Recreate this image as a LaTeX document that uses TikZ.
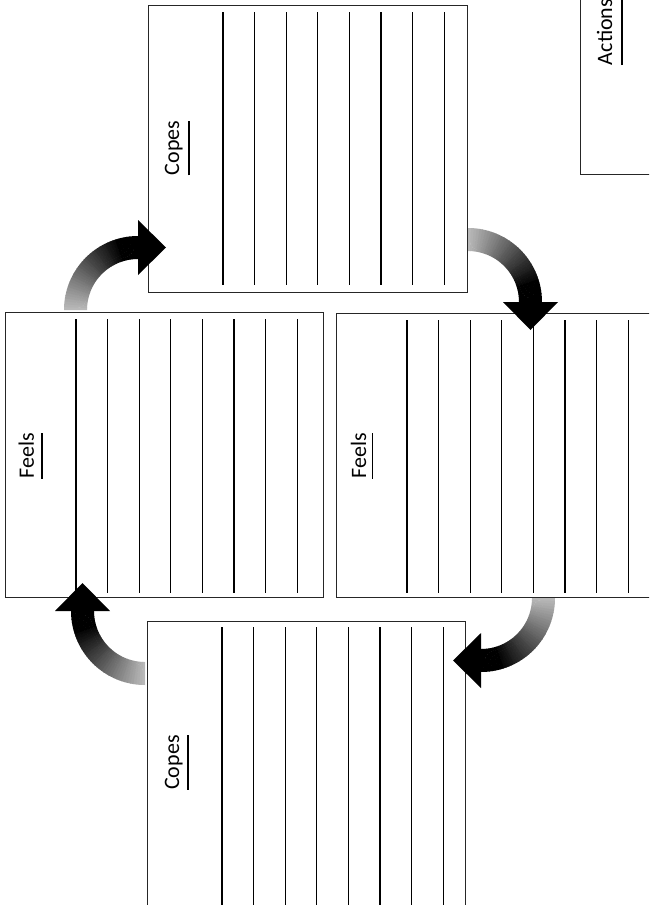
\documentclass[tikz,border=0pt]{standalone}
\usepackage{fontspec}
\setmainfont{Carlito}
\usetikzlibrary{calc}
\tikzset{
  sheet/.style={draw=black!85, line width=0.9pt, fill=white, minimum width=318.5pt, minimum height=287pt, inner sep=0pt},
  rule/.style={draw=black, line width=1.1pt},
  heading/.style={rotate=90, anchor=base, inner sep=0pt, font=\fontsize{22}{26}\selectfont},
  uline/.style={draw=black, line width=1.1pt},
}
% curved block arrow: #1 centre coordinate, #2 start angle (clockwise on page, 90 degrees)
\newcommand\cvarrow[2]{%
  \foreach \i in {0,...,39}{%
    \pgfmathsetmacro\aa{#2+90*\i/40}%
    \pgfmathsetmacro\ab{#2+90*(\i+1)/40+0.4}%
    \pgfmathtruncatemacro\pp{min(100,28+72*\i/32)}%
    \fill[black!\pp] ($(#1)+(\aa:51)$) arc[start angle=\aa, end angle=\ab, radius=51]
      -- ($(#1)+(\ab:74)$) arc[start angle=\ab, end angle=\aa, radius=74] -- cycle;
  }%
  \pgfmathsetmacro\hb{#2+90}%
  \pgfmathsetmacro\ht{#2+180}%
  \fill[black] ($(#1)+(\hb:35)$) -- ($(#1)+(\hb:62.5)+(\ht:28)$) -- ($(#1)+(\hb:90)$) -- cycle;
}
\begin{document}
\begin{tikzpicture}[x=1pt,y=-1pt]
\useasboundingbox (0,0) rectangle (649,905);
\clip (0,0) rectangle (649,905);
\fill[white] (0,0) rectangle (649,905);

% sheets
\node[sheet] (copesA) at (308,148.5) {};
\node[sheet, minimum height=285pt] (feelsB) at (164.5,454.5) {};
\node[sheet, minimum height=284pt] (feelsC) at (495.5,455) {};
\node[sheet] (copesD) at (306.5,764.5) {};
\node[sheet] (actions) at (739.5,30.5) {};

% ruled lines
\foreach \k in {0,...,7}{
  \draw[rule] ({223+31.6*\k},12) -- ({223+31.6*\k},285);
  \draw[rule] ({76+31.6*\k},319) -- ({76+31.6*\k},593);
  \draw[rule] ({407+31.6*\k},320) -- ({407+31.6*\k},593);
  \draw[rule] ({222+31.6*\k},627) -- ({222+31.6*\k},910);
}

% headings
\node[heading] (tA) at (179,148) {Copes};
\draw[uline] ([xshift=10pt]tA.base west) -- ([xshift=10pt]tA.base east);
\node[heading] (tB) at (34,456) {Feels};
\draw[uline] ([xshift=8pt]tB.base west) -- ([xshift=8pt]tB.base east);
\node[heading] (tC) at (366,456) {Feels};
\draw[uline] ([xshift=6.5pt]tC.base west) -- ([xshift=6.5pt]tC.base east);
\node[heading] (tD) at (179,762.5) {Copes};
\draw[uline] ([xshift=9pt]tD.base west) -- ([xshift=9pt]tD.base east);
\node[heading] (tE) at (612,32) {Actions};
\draw[uline] ([xshift=10pt]tE.base west) -- ([xshift=10pt]tE.base east);

% curved arrows
\coordinate (arc1) at (138,310);
\coordinate (arc2) at (468,302);
\coordinate (arc3) at (481,598);
\coordinate (arc4) at (145,611);
\cvarrow{arc1}{180}
\cvarrow{arc2}{270}
\cvarrow{arc3}{0}
\cvarrow{arc4}{90}
\end{tikzpicture}
\end{document}
